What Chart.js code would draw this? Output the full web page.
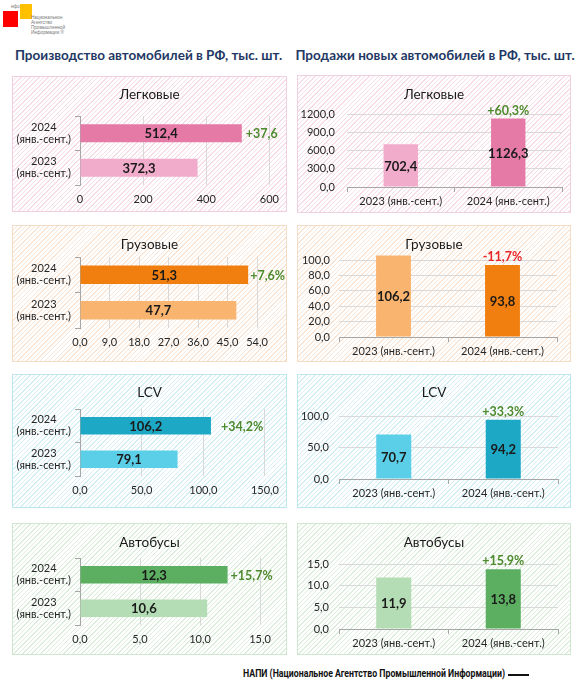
<!DOCTYPE html>
<html><head><meta charset="utf-8">
<script src="https://cdn.jsdelivr.net/npm/chart.js@4"></script>
<style>
body{margin:0;width:580px;height:682px;background:#fff;position:relative;overflow:hidden;font-family:Lato,"Open Sans",sans-serif}
.panel{position:absolute;box-sizing:border-box;border:1px solid}
.wrap{position:absolute}
.head{position:absolute;top:47px;font-weight:bold;font-size:13.5px;color:#1F3864;white-space:nowrap;text-align:center}
.foot{position:absolute;top:668px;left:243px;font-family:"Roboto";font-weight:bold;font-size:10px;color:#111;white-space:nowrap;transform:scaleX(0.875);transform-origin:0 0}
.fline{position:absolute;top:674px;left:508px;width:21px;height:2px;background:#111}
.logo-r{position:absolute;left:3px;top:11px;width:15px;height:16px;background:#F00}
.logo-y{position:absolute;left:20px;top:4px;width:12px;height:15px;background:#FFC000}
.logo-t{position:absolute;left:31px;top:15px;font-size:4.6px;line-height:5px;color:#777;font-family:"Liberation Sans"}
.logo-s{position:absolute;left:11px;top:4px;font-size:4.5px;color:#777;font-family:"Liberation Sans"}
</style>
</head><body>
<div class="logo-s">нфо</div>
<div class="logo-r"></div><div class="logo-y"></div>
<div class="logo-t">Национальное<br>Агентство<br>Промышленной<br>Информации ®</div>
<div class="head" style="left:0;width:297px">Производство автомобилей в РФ, тыс. шт.</div>
<div class="head" style="left:290px;width:290px">Продажи новых автомобилей в РФ, тыс. шт.</div>
<div id="root"></div>
<div class="foot">НАПИ (Национальное Агентство Промышленной Информации)</div>
<div class="fline"></div>
<script>
// ---------- data ----------
const segmentTitles = ['Легковые', 'Грузовые', 'LCV', 'Автобусы'];
const prodCategories = [['2024', '(янв.-сент.)'], ['2023', '(янв.-сент.)']];
const salesCategories = ['2023 (янв.-сент.)', '2024 (янв.-сент.)'];

const prodCars = [512.4, 372.3];
const prodTrucks = [51.3, 47.7];
const prodLcv = [106.2, 79.1];
const prodBuses = [12.3, 10.6];
const prodChange = ['+37,6', '+7,6%', '+34,2%', '+15,7%'];
const prodAxisMax = [600, 54, 150, 15];
const prodAxisStep = [200, 9, 50, 5];
const prodAxisDecimals = [0, 1, 1, 1];

const salesCars = [702.4, 1126.3];
const salesTrucks = [106.2, 93.8];
const salesLcv = [70.7, 94.2];
const salesBuses = [11.9, 13.8];
const salesChange = ['+60,3%', '-11,7%', '+33,3%', '+15,9%'];
const salesAxisTop = [1200, 100, 100, 15];
const salesAxisStep = [300, 20, 50, 5];

const prodSeries = [prodCars, prodTrucks, prodLcv, prodBuses];
const salesSeries = [salesCars, salesTrucks, salesLcv, salesBuses];

// ---------- style ----------
const FONT = 'Lato, "Open Sans", sans-serif';
Chart.defaults.font.family = FONT;
const palette = [
  {dark:'#E57AA7', light:'#F1ABCB', border:'#F0D0DE', hatch:'#F6DDE8'},
  {dark:'#F07F0F', light:'#F9B46F', border:'#F6DCC4', hatch:'#FAE6D6'},
  {dark:'#1DA8C5', light:'#5CCFE8', border:'#BFE6EE', hatch:'#D6EFF4'},
  {dark:'#5CAF61', light:'#B5DDB5', border:'#CFE6CF', hatch:'#DDEEDD'}
];
const GREEN = '#4E8A2E', RED = '#E8262A';
const leftGeom = [
  {top:76, bottom:212, areaTop:116, areaBottom:185, areaRight:272, titleY:95, gap:4},
  {top:225, bottom:362, areaTop:257, areaBottom:328, areaRight:257, titleY:245, gap:2},
  {top:374, bottom:508, areaTop:409, areaBottom:476, areaRight:268, titleY:393, gap:10},
  {top:523, bottom:655, areaTop:558, areaBottom:625, areaRight:260, titleY:543, gap:3}
];
const LX = 12, LR = 287, LAREA = 80;
const rightGeom = [
  {top:75, bottom:213, areaTop:114, areaBottom:187, areaLeft:347, areaRight:562, titleY:95, max:1200, pad:12},
  {top:225, bottom:362, areaTop:254, areaBottom:337, areaLeft:339, areaRight:557, titleY:245, max:108, pad:9},
  {top:374, bottom:508, areaTop:416, areaBottom:479, areaLeft:339, areaRight:558, titleY:393, max:100, pad:10},
  {top:523, bottom:655, areaTop:564, areaBottom:629, areaLeft:339, areaRight:558, titleY:543, max:15, pad:10}
];
const RX = 297, RR = 571;

const fmt = (v, d) => Number(v).toFixed(d).replace('.', ',');

const labelPlugin = {
  id: 'barLabels',
  afterDatasetsDraw(chart, args, o) {
    const ctx = chart.ctx;
    const meta = chart.getDatasetMeta(0);
    const horiz = chart.options.indexAxis === 'y';
    ctx.save();
    ctx.textAlign = 'center'; ctx.textBaseline = 'middle';
    ctx.font = '13.5px ' + FONT; ctx.fillStyle = '#1a1a1a';
    ctx.fillText(o.title, chart.width / 2, o.titleY);
    ctx.font = 'bold 13px ' + FONT; ctx.fillStyle = '#1a1a1a';
    meta.data.forEach((bar, i) => {
      const v = chart.data.datasets[0].data[i];
      if (horiz) ctx.fillText(fmt(v, 1), (bar.x + bar.base) / 2, bar.y + 1);
      else ctx.fillText(fmt(v, 1), bar.x, (bar.y + bar.base) / 2 + 1);
    });
    const b = meta.data[o.changeIndex];
    ctx.font = 'bold 12.5px ' + FONT; ctx.fillStyle = o.changeColor;
    if (horiz) { ctx.textAlign = 'left'; ctx.fillText(o.change, b.x + o.gap, b.y + 1); }
    else ctx.fillText(o.change, b.x, b.y - o.gap);
    ctx.restore();
  }
};

function addPanel(x, y, w, h, pal) {
  const p = document.createElement('div');
  p.className = 'panel';
  Object.assign(p.style, {left:x+'px', top:y+'px', width:w+'px', height:h+'px', borderColor:pal.border,
    background:`repeating-linear-gradient(135deg, #fff 0px, #fff 2.2px, ${pal.hatch} 2.2px, ${pal.hatch} 3.2px)`});
  document.getElementById('root').appendChild(p);
  const wr = document.createElement('div');
  wr.className = 'wrap';
  Object.assign(wr.style, {left:x+'px', top:y+'px', width:w+'px', height:h+'px'});
  const c = document.createElement('canvas');
  c.width = w; c.height = h;
  wr.appendChild(c);
  document.getElementById('root').appendChild(wr);
  return c;
}

// production (horizontal)
leftGeom.forEach((g, i) => {
  const pal = palette[i];
  const w = LR - LX, h = g.bottom - g.top;
  const c = addPanel(LX, g.top, w, h, pal);
  const dec = prodAxisDecimals[i];
  new Chart(c, {
    type: 'bar',
    data: {labels: prodCategories, datasets: [{data: prodSeries[i], backgroundColor: [pal.dark, pal.light],
      barPercentage: 0.52, categoryPercentage: 1}]},
    options: {
      indexAxis: 'y', responsive: false, animation: false,
      layout: {padding: {top: g.areaTop - g.top, right: LR - g.areaRight, bottom: 0, left: 0}},
      plugins: {legend: {display: false}, tooltip: {enabled: false},
        barLabels: {title: segmentTitles[i], titleY: g.titleY - g.top, change: prodChange[i], changeIndex: 0,
          changeColor: GREEN, gap: g.gap}},
      scales: {
        y: {grid: {drawOnChartArea: false, tickLength: 5, color: '#A6A6A6', offset: true},
            border: {color: '#A6A6A6'},
            ticks: {crossAlign: 'center', padding: 4, color: '#262626', font: {size: 11, lineHeight: 1.1}},
            afterFit: s => { s.width = LAREA - LX; }},
        x: {min: 0, max: prodAxisMax[i],
            ticks: {stepSize: prodAxisStep[i], padding: 8, color: '#262626', font: {size: 11},
              callback: v => fmt(v, dec)},
            grid: {color: '#D9D9D9', drawTicks: false}, border: {display: false},
            afterFit: s => { s.height = g.bottom - g.areaBottom; }}
      }
    },
    plugins: [labelPlugin]
  });
});

// sales (vertical)
rightGeom.forEach((g, i) => {
  const pal = palette[i];
  const w = RR - RX, h = g.bottom - g.top;
  const c = addPanel(RX, g.top, w, h, pal);
  const top = salesAxisTop[i], step = salesAxisStep[i];
  const neg = salesChange[i].startsWith('-');
  new Chart(c, {
    type: 'bar',
    data: {labels: salesCategories, datasets: [{data: salesSeries[i], backgroundColor: [pal.light, pal.dark],
      barPercentage: 0.32, categoryPercentage: 1}]},
    options: {
      responsive: false, animation: false,
      layout: {padding: {top: g.areaTop - g.top, right: RR - g.areaRight, bottom: 0, left: 0}},
      plugins: {legend: {display: false}, tooltip: {enabled: false},
        barLabels: {title: segmentTitles[i], titleY: g.titleY - g.top, change: salesChange[i], changeIndex: 1,
          changeColor: neg ? RED : GREEN, gap: 8}},
      scales: {
        x: {grid: {drawOnChartArea: false, tickLength: 5, color: '#A6A6A6', offset: true},
            border: {color: '#A6A6A6'},
            ticks: {padding: 3, color: '#262626', font: {size: 11}},
            afterFit: s => { s.height = g.bottom - g.areaBottom; }},
        y: {min: 0, max: g.max,
            ticks: {stepSize: step, padding: g.pad, color: '#262626', font: {size: 11},
              callback: v => fmt(v, 1)},
            afterBuildTicks: s => {
              const t = [];
              for (let v = 0; v <= top + 1e-9; v += step) t.push({value: v});
              s.ticks = t;
            },
            grid: {color: '#D9D9D9', drawTicks: false}, border: {display: false},
            afterFit: s => { s.width = g.areaLeft - RX; }}
      }
    },
    plugins: [labelPlugin]
  });
});
</script>
</body></html>
